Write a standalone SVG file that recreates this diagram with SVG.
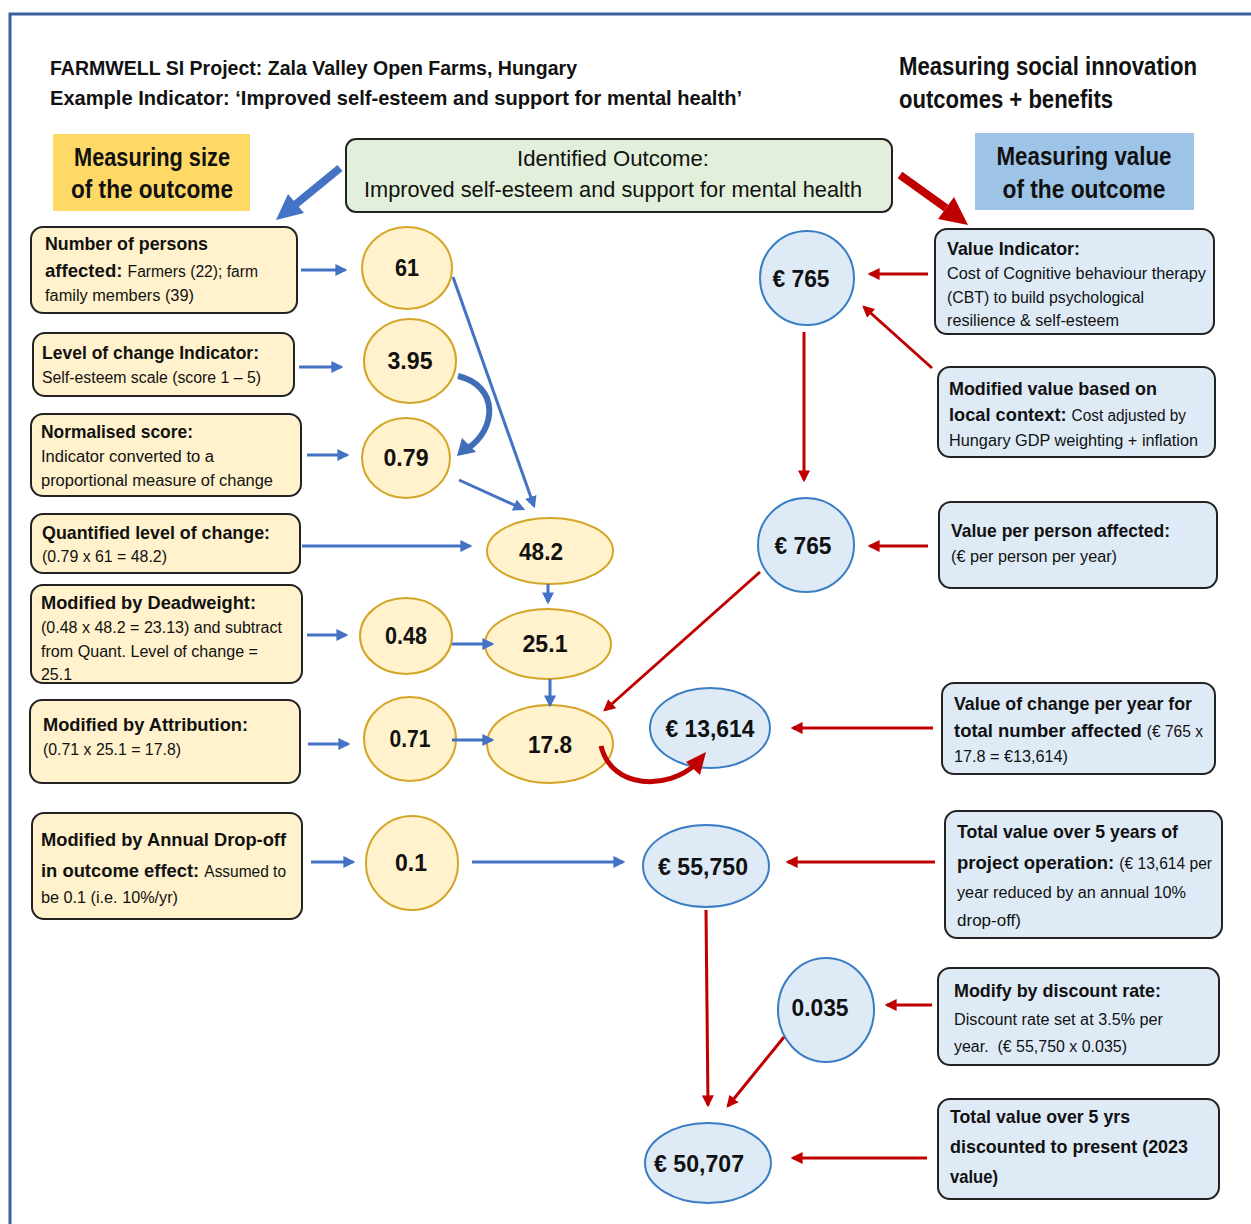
<svg xmlns="http://www.w3.org/2000/svg" width="1251" height="1224" viewBox="0 0 1251 1224">
<style>
text{font-family:"Liberation Sans",Arial,sans-serif;fill:#111}
.b{font-weight:bold}
.h{font-size:21px;font-weight:bold}
.big{font-size:25px;font-weight:bold}
.t{font-size:19px}
.s{font-size:16px;font-weight:normal}
.num{font-size:24px;font-weight:bold;text-anchor:middle}
.ybox{fill:#FFF2CC;stroke:#222;stroke-width:2}
.bbox{fill:#DEEBF7;stroke:#222;stroke-width:2}
.yc{fill:#FFF2CC;stroke:#D4A526;stroke-width:2}
.bc{fill:#DEEBF7;stroke:#3A7DC4;stroke-width:2}
.bl{stroke:#4472C4;stroke-width:3;fill:none}
.rd{stroke:#C00000;stroke-width:3;fill:none}
</style>
<defs>
<marker id="ab" viewBox="0 0 10 10" refX="8" refY="5" markerWidth="4" markerHeight="4" orient="auto" markerUnits="strokeWidth"><path d="M0,0L10,5L0,10z" fill="#4472C4"/></marker>
<marker id="ar" viewBox="0 0 10 10" refX="8" refY="5" markerWidth="4" markerHeight="4" orient="auto" markerUnits="strokeWidth"><path d="M0,0L10,5L0,10z" fill="#C00000"/></marker>
</defs>
<rect width="1251" height="1224" fill="#fff"/>
<path d="M10,1224V14H1251" fill="none" stroke="#3A5FA0" stroke-width="3"/>

<g id="header">
<text class="h" x="50" y="75" textLength="527" lengthAdjust="spacingAndGlyphs">FARMWELL SI Project: Zala Valley Open Farms, Hungary</text>
<text class="h" x="50" y="105" textLength="692" lengthAdjust="spacingAndGlyphs">Example Indicator: ‘Improved self-esteem and support for mental health’</text>
<text class="big" x="899" y="75" textLength="298" lengthAdjust="spacingAndGlyphs">Measuring social innovation</text>
<text class="big" x="899" y="108" textLength="214" lengthAdjust="spacingAndGlyphs">outcomes + benefits</text>
</g>

<g id="label-size">
<rect x="53" y="134" width="197" height="77" fill="#FFD966"/>
<text class="big" x="152" y="166" text-anchor="middle" textLength="156" lengthAdjust="spacingAndGlyphs">Measuring size</text>
<text class="big" x="152" y="198" text-anchor="middle" textLength="162" lengthAdjust="spacingAndGlyphs">of the outcome</text>
</g>
<g id="label-value">
<rect x="975" y="133" width="219" height="77" fill="#9DC3E6"/>
<text class="big" x="1084" y="165" text-anchor="middle" textLength="175" lengthAdjust="spacingAndGlyphs">Measuring value</text>
<text class="big" x="1084" y="198" text-anchor="middle" textLength="163" lengthAdjust="spacingAndGlyphs">of the outcome</text>
</g>
<g id="outcome">
<rect x="346" y="139" width="546" height="73" rx="10" fill="#E2EFDA" stroke="#222" stroke-width="2"/>
<text x="613" y="166" font-size="22" text-anchor="middle" textLength="192" lengthAdjust="spacingAndGlyphs">Identified Outcome:</text>
<text x="613" y="197" font-size="22" text-anchor="middle" textLength="498" lengthAdjust="spacingAndGlyphs">Improved self-esteem and support for mental health</text>
</g>

<!-- left boxes -->
<g id="box-persons"><rect class="ybox" x="31" y="227" width="266" height="86" rx="12"/>
<text class="t b" x="45" y="250" textLength="163" lengthAdjust="spacingAndGlyphs">Number of persons</text>
<text class="t b" x="45" y="277" textLength="213" lengthAdjust="spacingAndGlyphs">affected: <tspan class="s">Farmers (22); farm</tspan></text>
<text class="s" x="45" y="301" textLength="149" lengthAdjust="spacingAndGlyphs">family members (39)</text></g>
<g id="box-level"><rect class="ybox" x="33" y="333" width="261" height="63" rx="12"/>
<text class="t b" x="42" y="359" textLength="217" lengthAdjust="spacingAndGlyphs">Level of change Indicator:</text>
<text class="s" x="42" y="383" textLength="219" lengthAdjust="spacingAndGlyphs">Self-esteem scale (score 1 – 5)</text></g>
<g id="box-norm"><rect class="ybox" x="31" y="414" width="270" height="82" rx="12"/>
<text class="t b" x="41" y="438" textLength="152" lengthAdjust="spacingAndGlyphs">Normalised score:</text>
<text class="s" x="41" y="462" textLength="173" lengthAdjust="spacingAndGlyphs">Indicator converted to a</text>
<text class="s" x="41" y="486" textLength="232" lengthAdjust="spacingAndGlyphs">proportional measure of change</text></g>
<g id="box-quant"><rect class="ybox" x="31" y="514" width="269" height="59" rx="12"/>
<text class="t b" x="42" y="539" textLength="228" lengthAdjust="spacingAndGlyphs">Quantified level of change:</text>
<text class="s" x="42" y="562" textLength="125" lengthAdjust="spacingAndGlyphs">(0.79 x 61 = 48.2)</text></g>
<g id="box-dead"><rect class="ybox" x="31" y="585" width="271" height="98" rx="12"/>
<text class="t b" x="41" y="609" textLength="215" lengthAdjust="spacingAndGlyphs">Modified by Deadweight:</text>
<text class="s" x="41" y="633" textLength="241" lengthAdjust="spacingAndGlyphs">(0.48 x 48.2 = 23.13) and subtract</text>
<text class="s" x="41" y="657" textLength="217" lengthAdjust="spacingAndGlyphs">from Quant. Level of change =</text>
<text class="s" x="41" y="680" textLength="31" lengthAdjust="spacingAndGlyphs">25.1</text></g>
<g id="box-attr"><rect class="ybox" x="30" y="700" width="270" height="83" rx="12"/>
<text class="t b" x="43" y="731" textLength="205" lengthAdjust="spacingAndGlyphs">Modified by Attribution:</text>
<text class="s" x="43" y="755" textLength="138" lengthAdjust="spacingAndGlyphs">(0.71 x 25.1 = 17.8)</text></g>
<g id="box-drop"><rect class="ybox" x="32" y="813" width="270" height="106" rx="12"/>
<text class="t b" x="41" y="846" textLength="245" lengthAdjust="spacingAndGlyphs">Modified by Annual Drop-off</text>
<text class="t b" x="41" y="877" textLength="245" lengthAdjust="spacingAndGlyphs">in outcome effect: <tspan class="s">Assumed to</tspan></text>
<text class="s" x="41" y="903" textLength="137" lengthAdjust="spacingAndGlyphs">be 0.1 (i.e. 10%/yr)</text></g>

<!-- yellow nodes -->
<g id="n61"><ellipse class="yc" cx="407" cy="268" rx="45" ry="41"/><text class="num" x="407" y="276" textLength="24" lengthAdjust="spacingAndGlyphs">61</text></g>
<g id="n395"><ellipse class="yc" cx="410" cy="361" rx="46" ry="42"/><text class="num" x="410" y="369" textLength="45" lengthAdjust="spacingAndGlyphs">3.95</text></g>
<g id="n079"><ellipse class="yc" cx="406" cy="458" rx="44" ry="40"/><text class="num" x="406" y="466" textLength="45" lengthAdjust="spacingAndGlyphs">0.79</text></g>
<g id="n482"><ellipse class="yc" cx="550" cy="551" rx="63" ry="33"/><text class="num" x="541" y="560" textLength="44" lengthAdjust="spacingAndGlyphs">48.2</text></g>
<g id="n048"><ellipse class="yc" cx="406" cy="636" rx="46" ry="38"/><text class="num" x="406" y="644" textLength="42" lengthAdjust="spacingAndGlyphs">0.48</text></g>
<g id="n251"><ellipse class="yc" cx="548" cy="644" rx="63" ry="35"/><text class="num" x="545" y="652" textLength="45" lengthAdjust="spacingAndGlyphs">25.1</text></g>
<g id="n071"><ellipse class="yc" cx="410" cy="739" rx="46" ry="42"/><text class="num" x="410" y="747" textLength="41" lengthAdjust="spacingAndGlyphs">0.71</text></g>
<g id="n178"><ellipse class="yc" cx="550" cy="744" rx="63" ry="39"/><text class="num" x="550" y="753" textLength="44" lengthAdjust="spacingAndGlyphs">17.8</text></g>
<g id="n01"><ellipse class="yc" cx="412" cy="863" rx="46" ry="47"/><text class="num" x="411" y="871" textLength="32" lengthAdjust="spacingAndGlyphs">0.1</text></g>

<!-- blue nodes -->
<g id="v765a"><ellipse class="bc" cx="807" cy="278" rx="47" ry="47"/><text class="num" x="801" y="287" textLength="57" lengthAdjust="spacingAndGlyphs">€ 765</text></g>
<g id="v765b"><ellipse class="bc" cx="806" cy="545" rx="48" ry="47"/><text class="num" x="803" y="554" textLength="57" lengthAdjust="spacingAndGlyphs">€ 765</text></g>
<g id="v13614"><ellipse class="bc" cx="710" cy="728" rx="60" ry="40"/><text class="num" x="710" y="737" textLength="89" lengthAdjust="spacingAndGlyphs">€ 13,614</text></g>
<g id="v55750"><ellipse class="bc" cx="706" cy="866" rx="63" ry="41"/><text class="num" x="703" y="875" textLength="90" lengthAdjust="spacingAndGlyphs">€ 55,750</text></g>
<g id="v0035"><ellipse class="bc" cx="826" cy="1010" rx="48" ry="52"/><text class="num" x="820" y="1016" textLength="57" lengthAdjust="spacingAndGlyphs">0.035</text></g>
<g id="v50707"><ellipse class="bc" cx="708" cy="1163" rx="63" ry="40"/><text class="num" x="699" y="1172" textLength="90" lengthAdjust="spacingAndGlyphs">€ 50,707</text></g>

<!-- right boxes -->
<g id="box-vi"><rect class="bbox" x="935" y="229" width="279" height="105" rx="12"/>
<text class="t b" x="947" y="255" textLength="133" lengthAdjust="spacingAndGlyphs">Value Indicator:</text>
<text class="s" x="947" y="279" textLength="259" lengthAdjust="spacingAndGlyphs">Cost of Cognitive behaviour therapy</text>
<text class="s" x="947" y="303" textLength="197" lengthAdjust="spacingAndGlyphs">(CBT) to build psychological</text>
<text class="s" x="947" y="326" textLength="172" lengthAdjust="spacingAndGlyphs">resilience &amp; self-esteem</text></g>
<g id="box-mod"><rect class="bbox" x="938" y="367" width="277" height="90" rx="12"/>
<text class="t b" x="949" y="395" textLength="208" lengthAdjust="spacingAndGlyphs">Modified value based on</text>
<text class="t b" x="949" y="421" textLength="237" lengthAdjust="spacingAndGlyphs">local context: <tspan class="s">Cost adjusted by</tspan></text>
<text class="s" x="949" y="446" textLength="249" lengthAdjust="spacingAndGlyphs">Hungary GDP weighting + inflation</text></g>
<g id="box-vpp"><rect class="bbox" x="939" y="502" width="278" height="86" rx="12"/>
<text class="t b" x="951" y="537" textLength="219" lengthAdjust="spacingAndGlyphs">Value per person affected:</text>
<text class="s" x="951" y="562" textLength="166" lengthAdjust="spacingAndGlyphs">(€ per person per year)</text></g>
<g id="box-voc"><rect class="bbox" x="942" y="683" width="273" height="91" rx="12"/>
<text class="t b" x="954" y="710" textLength="238" lengthAdjust="spacingAndGlyphs">Value of change per year for</text>
<text class="t b" x="954" y="737" textLength="249" lengthAdjust="spacingAndGlyphs">total number affected <tspan class="s">(€ 765 x</tspan></text>
<text class="s" x="954" y="762" textLength="114" lengthAdjust="spacingAndGlyphs">17.8 = €13,614)</text></g>
<g id="box-tv5"><rect class="bbox" x="945" y="811" width="277" height="127" rx="12"/>
<text class="t b" x="957" y="838" textLength="221" lengthAdjust="spacingAndGlyphs">Total value over 5 years of</text>
<text class="t b" x="957" y="869" textLength="255" lengthAdjust="spacingAndGlyphs">project operation: <tspan class="s">(€ 13,614 per</tspan></text>
<text class="s" x="957" y="898" textLength="229" lengthAdjust="spacingAndGlyphs">year reduced by an annual 10%</text>
<text class="s" x="957" y="926" textLength="64" lengthAdjust="spacingAndGlyphs">drop-off)</text></g>
<g id="box-disc"><rect class="bbox" x="938" y="968" width="281" height="97" rx="12"/>
<text class="t b" x="954" y="997" textLength="207" lengthAdjust="spacingAndGlyphs">Modify by discount rate:</text>
<text class="s" x="954" y="1025" textLength="209" lengthAdjust="spacingAndGlyphs">Discount rate set at 3.5% per</text>
<text class="s" x="954" y="1052" textLength="173" lengthAdjust="spacingAndGlyphs" xml:space="preserve">year.  (€ 55,750 x 0.035)</text></g>
<g id="box-tvd"><rect class="bbox" x="938" y="1099" width="281" height="100" rx="12"/>
<text class="t b" x="950" y="1123" font-size="21" textLength="180" lengthAdjust="spacingAndGlyphs">Total value over 5 yrs</text>
<text class="t b" x="950" y="1153" font-size="21" textLength="238" lengthAdjust="spacingAndGlyphs">discounted to present (2023</text>
<text class="t b" x="950" y="1183" font-size="21" textLength="48" lengthAdjust="spacingAndGlyphs">value)</text></g>

<g id="connectors">
<path d="M340,168L296,204" stroke="#4472C4" stroke-width="8" fill="none"/>
<path d="M276,220L288,194L304,213z" fill="#4472C4"/>
<path d="M900,175L946,208" stroke="#C00000" stroke-width="8" fill="none"/>
<path d="M968,225L938,219L954,197z" fill="#C00000"/>
<path class="bl" d="M301,270H345" marker-end="url(#ab)"/>
<path class="bl" d="M299,367H341" marker-end="url(#ab)"/>
<path class="bl" d="M307,455H347" marker-end="url(#ab)"/>
<path class="bl" d="M453,277L534,506" stroke-width="2.5" marker-end="url(#ab)"/>
<path class="bl" d="M459,480L523,509" marker-end="url(#ab)"/>
<path d="M458,376C500,386 496,430 468,448" stroke="#3F6DB8" stroke-width="6" fill="none"/>
<path d="M457,456L462,438L476,452z" fill="#3F6DB8"/>
<path class="bl" d="M302,546H470" marker-end="url(#ab)"/>
<path class="bl" d="M548,584V602" marker-end="url(#ab)"/>
<path class="bl" d="M307,635H346" marker-end="url(#ab)"/>
<path class="bl" d="M452,644H492" marker-end="url(#ab)"/>
<path class="bl" d="M550,679V705" marker-end="url(#ab)"/>
<path class="bl" d="M308,744H348" marker-end="url(#ab)"/>
<path class="bl" d="M452,740H492" marker-end="url(#ab)"/>
<path class="bl" d="M311,862H353" marker-end="url(#ab)"/>
<path class="bl" d="M472,862H623" marker-end="url(#ab)"/>
<path class="rd" d="M928,274H870" marker-end="url(#ar)"/>
<path class="rd" d="M932,368L864,307" marker-end="url(#ar)"/>
<path class="rd" d="M804,332V480" marker-end="url(#ar)"/>
<path class="rd" d="M928,546H870" marker-end="url(#ar)"/>
<path class="rd" d="M760,572L605,710" marker-end="url(#ar)"/>
<path d="M601,746C612,790 668,790 696,764" stroke="#C00000" stroke-width="5" fill="none"/>
<path d="M706,752L700,775L686,762z" fill="#C00000"/>
<path class="rd" d="M933,728H793" marker-end="url(#ar)"/>
<path class="rd" d="M935,862H788" marker-end="url(#ar)"/>
<path class="rd" d="M706,910L708,1105" marker-end="url(#ar)"/>
<path class="rd" d="M932,1005H887" marker-end="url(#ar)"/>
<path class="rd" d="M784,1037L728,1106" marker-end="url(#ar)"/>
<path class="rd" d="M927,1158H793" marker-end="url(#ar)"/>
</g>
</svg>
